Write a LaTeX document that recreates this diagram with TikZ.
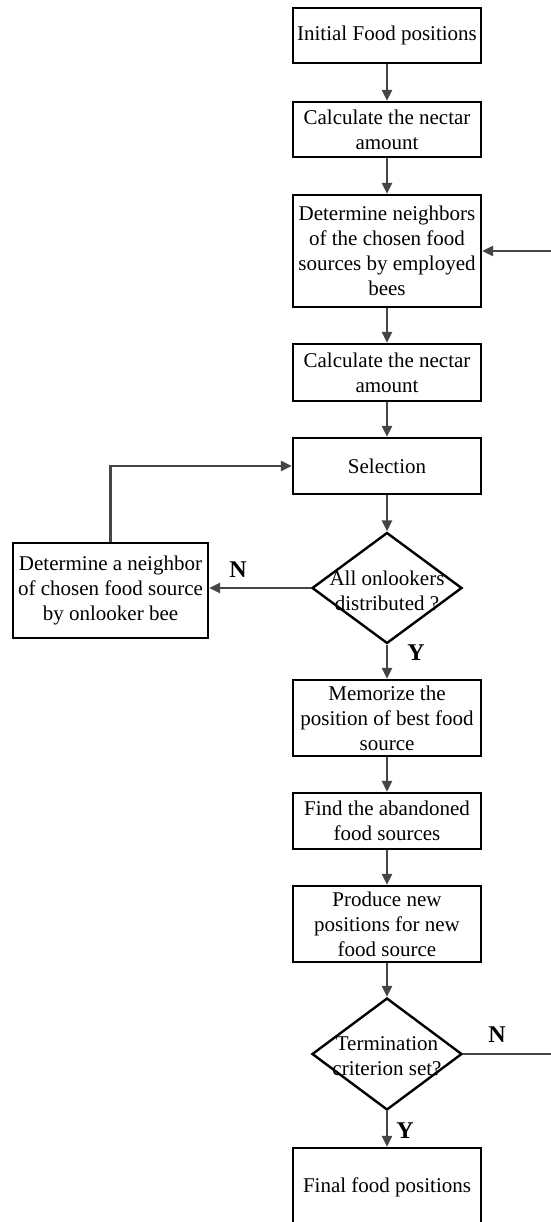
\documentclass[tikz,border=0pt]{standalone}
\usepackage{fontspec}
\setmainfont{Liberation Serif}
\usetikzlibrary{shapes.geometric,arrows.meta}
\definecolor{arrowgray}{HTML}{454545}
\begin{document}
\begin{tikzpicture}[x=1pt,y=-1pt,
 box/.style={draw=black,line width=2.4pt,minimum width=188pt,inner sep=0pt,align=center,font=\fontsize{21}{25}\selectfont},
 dia/.style={draw=black,line width=2.4pt,diamond,minimum width=150pt,minimum height=111pt,inner sep=0pt},
 txt/.style={align=center,font=\fontsize{21}{25}\selectfont},
 lab/.style={font=\fontsize{24}{28}\selectfont\bfseries},
 arr/.style={draw=arrowgray,line width=2.4pt,-{Triangle[length=11pt,width=10pt]}}]
\useasboundingbox (0,0) rectangle (550,1222);
\node[box,minimum height=55pt] (b1) at (387,35.5) {Initial Food positions};
\node[box,minimum height=55pt] (b2) at (387,129.5) {Calculate the nectar\\amount};
\node[box,minimum height=112pt] (b3) at (387,251) {Determine neighbors\\of the chosen food\\sources by employed\\bees};
\node[box,minimum height=57pt] (b4) at (387,372.5) {Calculate the nectar\\amount};
\node[box,minimum height=56pt] (sel) at (387,466) {Selection};
\node[dia] (d1) at (387,588) {};
\node[txt] (d1t) at (387,591) {All onlookers\\distributed ?};
\node[box,minimum width=195pt,minimum height=95pt] (lb) at (110.5,590.5) {Determine a neighbor\\of chosen food source\\by onlooker bee};
\node[box,minimum height=76pt] (b5) at (387,718) {Memorize the\\position of best food\\source};
\node[box,minimum height=56pt] (b6) at (387,821) {Find the abandoned\\food sources};
\node[box,minimum height=76pt] (b7) at (387,924) {Produce new\\positions for new\\food source};
\node[dia,minimum height=112pt] (d2) at (387,1054) {};
\node[txt] (d2t) at (387,1056) {Termination\\criterion set?};
\node[box,minimum height=78pt] (b8) at (387,1187) {Final food positions};
\node[lab] (n1) at (238,570) {N};
\node[lab] (y1) at (416,653) {Y};
\node[lab] (n2) at (497,1035) {N};
\node[lab] (y2) at (405,1131) {Y};
\coordinate (r1) at (555,1054);
\draw[arr] (b1) -- (b2);
\draw[arr] (b2) -- (b3);
\draw[arr] (b3) -- (b4);
\draw[arr] (b4) -- (sel);
\draw[arr] (sel) -- (d1.north);
\draw[arr] (d1.west) -- (d1.west -| lb.east);
\draw[arr] (lb.north) |- (sel.west);
\draw[arr] (d1.south) -- (b5);
\draw[arr] (b5) -- (b6);
\draw[arr] (b6) -- (b7);
\draw[arr] (b7) -- (d2.north);
\draw[arr] (d2.south) -- (b8);
\draw[arr] (d2.east) -- (r1) |- (b3.east);
\end{tikzpicture}
\end{document}
